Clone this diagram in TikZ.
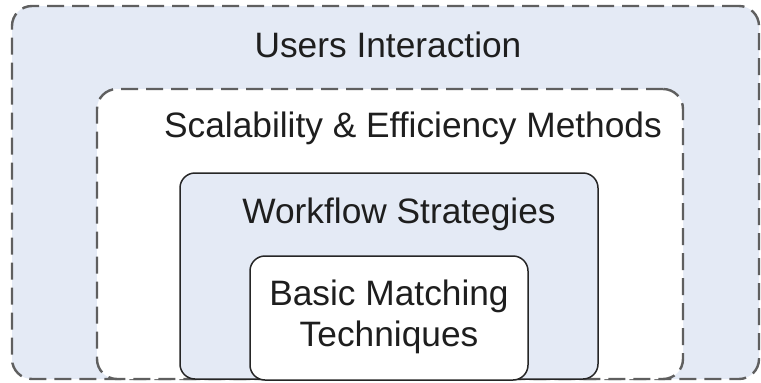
\documentclass[tikz,border=0pt]{standalone}
\usepackage{fontspec}
\setmainfont{Liberation Sans}
\definecolor{lightfill}{RGB}{228,234,245}
\definecolor{dashgray}{RGB}{95,95,95}
\definecolor{txt}{RGB}{30,30,30}
\begin{document}
\begin{tikzpicture}[x=1pt,y=-1pt,
  dashbox/.style={draw=dashgray, line width=2.4pt, dash pattern=on 17pt off 8pt, rounded corners=20pt, inner sep=0pt},
  solidbox/.style={draw=black!85, line width=1.5pt, rounded corners=15pt, inner sep=0pt},
  lbl/.style={text=txt, font=\fontsize{35.3}{41}\selectfont, inner sep=0pt, anchor=base, align=center}]
\useasboundingbox (0,0) rectangle (761,383);
\node[dashbox, fill=lightfill, minimum width=747pt, minimum height=373pt] (outer) at (385.5,192.5) {};
\node[dashbox, fill=white, minimum width=586pt, minimum height=290pt] (middle) at (390,234) {};
\node[solidbox, fill=lightfill, minimum width=418pt, minimum height=206pt] (workflow) at (389,276) {};
\node[solidbox, fill=white, minimum width=278pt, minimum height=124pt] (basic) at (389,318) {};
\node[lbl] (t1) at (388,57) {Users Interaction};
\node[lbl] (t2) at (413,137) {Scalability \& Efficiency Methods};
\node[lbl] (t3) at (399,223) {Workflow Strategies};
\node[lbl] (t4) at (389,346) {Basic Matching\\Techniques};
\end{tikzpicture}
\end{document}
